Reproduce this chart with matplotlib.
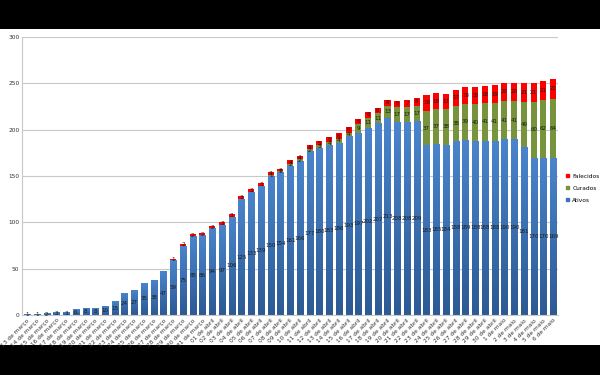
import numpy as np
import matplotlib.pyplot as plt
from matplotlib.colors import LinearSegmentedColormap
from matplotlib.patches import Patch

# Dados (13 de março a 6 de maio)
dias = ([f"{d} de março" for d in range(13, 32)] +
        [f"{d:02d} de abril" for d in range(1, 31)] +
        [f"{d} de maio" for d in range(1, 7)])

ativos = [1, 1, 2, 3, 3, 6, 8, 8, 10, 15, 24, 27, 35, 38, 47, 59, 75, 85, 86,
          94, 97, 106, 125, 133, 139, 150, 154, 161, 166, 177, 180, 183, 186, 193,
          197, 202, 207, 213, 208, 208, 209, 183, 185, 184, 188, 189, 188, 188, 188,
          190, 190, 181, 170, 170, 169]
curados = [0, 0, 0, 0, 0, 0, 0, 0, 0, 0, 0, 0, 0, 0, 0, 0, 0, 0, 0,
           0, 0, 0, 0, 0, 0, 1, 1, 2, 2, 2, 3, 4, 4, 4,
           9, 11, 11, 13, 17, 17, 17, 37, 37, 38, 38, 39, 40, 41, 41,
           41, 41, 49, 60, 62, 64]
falecidos = [0, 0, 0, 0, 0, 0, 0, 0, 0, 0, 0, 0, 0, 0, 0, 1, 2, 2, 2,
             2, 3, 3, 3, 3, 3, 3, 3, 4, 4, 4, 5, 5, 6, 6,
             6, 6, 6, 6, 6, 7, 8, 18, 18, 17, 17, 18, 18, 18, 19,
             20, 20, 21, 21, 21, 22]

x = np.arange(len(dias))
ativos = np.array(ativos)
curados = np.array(curados)
falecidos = np.array(falecidos)

azul = "#3b73ba"
verde = "#77933c"
vermelho = "#ff0000"
larg = 0.62

fig = plt.figure(figsize=(6, 3.75), dpi=100, facecolor="black")
# area branca do slide
fig.patches.append(plt.Rectangle((0, 0.08), 1, 0.843, transform=fig.transFigure,
                                 facecolor="white", edgecolor="none", zorder=-10))
ax = fig.add_axes([0.037, 0.16, 0.893, 0.741])
ax.set_facecolor("white")

b1 = ax.bar(x, ativos, width=larg, color=azul, zorder=2)
b2 = ax.bar(x, curados, width=larg, bottom=ativos, color=verde, zorder=2)
b3 = ax.bar(x, falecidos, width=larg, bottom=ativos + curados, color=vermelho, zorder=2)

# gradiente nas barras azuis (estilo Excel)
cmap = LinearSegmentedColormap.from_list("az", ["#2c5a94", "#4a84cc"])
grad = np.linspace(0, 1, 64).reshape(-1, 1)
for r in b1:
    x0, w, h = r.get_x(), r.get_width(), r.get_height()
    im = ax.imshow(grad, extent=[x0, x0 + w, 0, h], origin="lower", aspect="auto",
                   cmap=cmap, zorder=2.5, interpolation="bilinear")
    im.set_clip_path(r)

for cont, vals in [(b1, ativos), (b2, curados), (b3, falecidos)]:
    ax.bar_label(cont, labels=[str(v) if v > 0 else "" for v in vals],
                 label_type="center", fontsize=4, color="#1a1a1a", zorder=4)

ax.set_xlim(-0.5, len(dias) - 0.5)
ax.set_ylim(0, 300)
ax.set_yticks(np.arange(0, 301, 50))
ax.set_xticks(x)
ax.set_xticklabels(dias, rotation=45, ha="right", rotation_mode="anchor")
ax.tick_params(axis="both", labelsize=4.2, length=0, colors="#333333", pad=2)
ax.grid(axis="y", color="#c8c8c8", linewidth=0.8, zorder=1)
for s in ["top", "right"]:
    ax.spines[s].set_visible(False)
for s in ["left", "bottom"]:
    ax.spines[s].set_color("#c8c8c8")
    ax.spines[s].set_linewidth(0.8)

handles = [Patch(color=vermelho, label="Falecidos"),
           Patch(color=verde, label="Curados"),
           Patch(color=azul, label="Ativos")]
ax.legend(handles=handles, loc="center left", bbox_to_anchor=(1.005, 0.457),
          frameon=False, fontsize=4.2, handlelength=0.6, handleheight=0.6,
          handletextpad=0.5, labelspacing=1.2)

fig.savefig("out.png", dpi=100, facecolor="black")
